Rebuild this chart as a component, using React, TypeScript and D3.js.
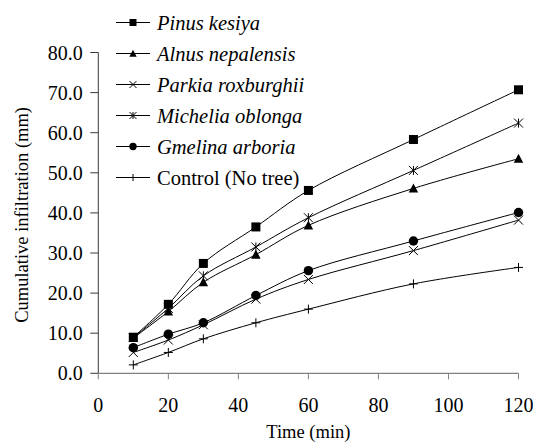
import React from "react";
import * as d3 from "d3";

const time = [10, 20, 30, 45, 60, 90, 120];
const pinus = [9.0, 17.2, 27.4, 36.5, 45.6, 58.3, 70.7];
const alnus = [8.8, 15.4, 22.7, 29.6, 36.9, 46.1, 53.5];
const parkia = [5.2, 8.3, 12.1, 18.5, 23.4, 30.6, 38.2];
const michelia = [8.9, 16.2, 24.3, 31.5, 38.8, 50.6, 62.4];
const gmelina = [6.4, 9.75, 12.6, 19.4, 25.6, 33.0, 40.1];
const control = [2.1, 5.2, 8.6, 12.6, 16.0, 22.3, 26.4];

const seriesNames = [
  "Pinus kesiya",
  "Alnus nepalensis",
  "Parkia roxburghii",
  "Michelia oblonga",
  "Gmelina arboria",
  "Control (No tree)",
];
const seriesValues = [pinus, alnus, parkia, michelia, gmelina, control];
const seriesMarkers = ["square", "triangle", "cross", "star", "circle", "plus"];
const seriesItalic = [true, true, true, true, true, false];

const xTicks = [0, 20, 40, 60, 80, 100, 120];
const yTicks = [0, 10, 20, 30, 40, 50, 60, 70, 80];

const FONT = "Liberation Serif";

function Marker({ type, cx, cy, s }: { type: string; cx: number; cy: number; s: number }) {
  const h = s / 2;
  switch (type) {
    case "square":
      return <rect x={cx - h} y={cy - h} width={s} height={s} fill="#000" />;
    case "triangle":
      return (
        <path
          d={`M${cx},${cy - h * 1.1}L${cx + h * 1.05},${cy + h * 0.9}L${cx - h * 1.05},${cy + h * 0.9}Z`}
          fill="#000"
        />
      );
    case "circle":
      return <circle cx={cx} cy={cy} r={h * 1.05} fill="#000" />;
    case "cross":
      return (
        <path
          d={`M${cx - h},${cy - h}L${cx + h},${cy + h}M${cx - h},${cy + h}L${cx + h},${cy - h}`}
          stroke="#000"
          strokeWidth={1}
          fill="none"
        />
      );
    case "star":
      return (
        <path
          d={`M${cx - h},${cy - h}L${cx + h},${cy + h}M${cx - h},${cy + h}L${cx + h},${cy - h}M${cx},${cy - h}L${cx},${cy + h}`}
          stroke="#000"
          strokeWidth={1}
          fill="none"
        />
      );
    case "plus":
      return (
        <path
          d={`M${cx - h},${cy}L${cx + h},${cy}M${cx},${cy - h}L${cx},${cy + h}`}
          stroke="#000"
          strokeWidth={1}
          fill="none"
        />
      );
    default:
      return null;
  }
}

export default function App() {
  const W = 537;
  const H = 442;
  const x = d3.scaleLinear().domain([0, 120]).range([98.3, 518.5]);
  const y = d3.scaleLinear().domain([0, 80]).range([373.3, 52.5]);

  const line = d3
    .line<[number, number]>()
    .x((d) => x(d[0]))
    .y((d) => y(d[1]))
    .curve(d3.curveCatmullRom.alpha(0.5));

  const legendY0 = 22.5;
  const legendStep = 31;
  const ts = { fontFamily: FONT };

  return (
    <svg width={W} height={H} style={{ position: "absolute", left: 0, top: 0, background: "#fff" }}>
      <rect x={0} y={0} width={W} height={H} fill="#fff" />
      {/* Y axis */}
      <line x1={x(0)} x2={x(0)} y1={y(80)} y2={y(0)} stroke="#3a3a3a" strokeWidth={1} />
      {yTicks.map((t) => (
        <g key={"yt" + t}>
          <line x1={x(0) - 8} x2={x(0)} y1={y(t)} y2={y(t)} stroke="#3a3a3a" strokeWidth={1} />
          <text
            x={x(0) - 15.5}
            y={y(t)}
            textAnchor="end"
            dominantBaseline="central"
            fontSize={20}
            fill="#000"
            style={ts}
          >
            {t.toFixed(1)}
          </text>
        </g>
      ))}
      {/* X axis */}
      <line x1={x(0)} x2={x(120)} y1={y(0)} y2={y(0)} stroke="#808080" strokeWidth={1.3} />
      {xTicks.map((t) => (
        <g key={"xt" + t}>
          <line x1={x(t)} x2={x(t)} y1={y(0)} y2={y(0) + 6} stroke="#808080" strokeWidth={1} />
          <text
            x={x(t)}
            y={405}
            textAnchor="middle"
            dominantBaseline="central"
            fontSize={20}
            fill="#000"
            style={ts}
          >
            {t}
          </text>
        </g>
      ))}
      <text x={x(60)} y={432} textAnchor="middle" dominantBaseline="central" fontSize={18.5} fill="#000" style={ts}>
        Time (min)
      </text>
      <text
        transform={`translate(22,${(y(0) + y(80)) / 2 + 2}) rotate(-90)`}
        textAnchor="middle"
        dominantBaseline="central"
        fontSize={18.5}
        fill="#000"
        style={ts}
      >
        Cumulative infiltration (mm)
      </text>

      {/* Series lines */}
      {seriesValues.map((vals, i) => (
        <path
          key={"l" + i}
          d={line(time.map((t, j) => [t, vals[j]] as [number, number])) || ""}
          fill="none"
          stroke="#000"
          strokeWidth={1}
        />
      ))}
      {/* Markers */}
      {seriesValues.map((vals, i) => (
        <g key={"m" + i}>
          {time.map((t, j) => (
            <Marker key={j} type={seriesMarkers[i]} cx={x(t)} cy={y(vals[j])} s={9} />
          ))}
        </g>
      ))}

      {/* Legend */}
      {seriesNames.map((name, i) => {
        const ly = legendY0 + i * legendStep;
        return (
          <g key={"lg" + i}>
            <line x1={116} x2={150} y1={ly} y2={ly} stroke="#000" strokeWidth={1} />
            <Marker type={seriesMarkers[i]} cx={133} cy={ly} s={7} />
            <text
              x={157}
              y={ly}
              dominantBaseline="central"
              fontSize={20.5}
              fontStyle={seriesItalic[i] ? "italic" : "normal"}
              fill="#000"
              style={ts}
            >
              {name}
            </text>
          </g>
        );
      })}
    </svg>
  );
}
